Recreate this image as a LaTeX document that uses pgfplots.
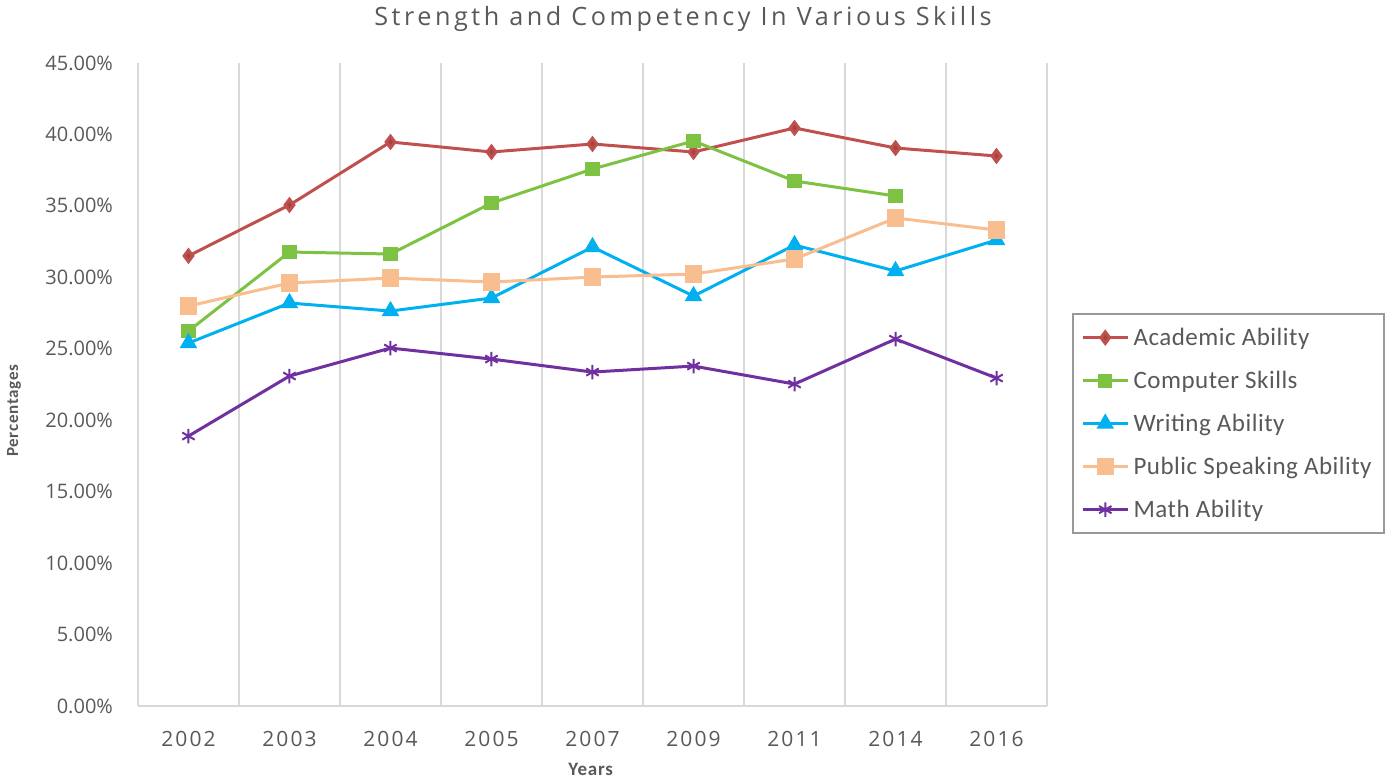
\documentclass[border=0pt]{standalone}
\usepackage{fontspec}
\setmainfont{Carlito}
\newfontfamily\titlefont[LetterSpace=14]{Open Sans}
\newfontfamily\tickfont{Open Sans}
\newfontfamily\yearfont[LetterSpace=10]{Open Sans}
\newfontfamily\legfont[LetterSpace=2]{Carlito}
\newfontfamily\labfont[LetterSpace=4]{Carlito}
\usepackage{pgfplots}
\pgfplotsset{compat=1.18}

\definecolor{txt}{HTML}{595959}
\definecolor{gridc}{HTML}{D9D9D9}
\definecolor{acad}{HTML}{C0504D}
\definecolor{comp}{HTML}{7DC243}
\definecolor{writ}{HTML}{00B0F0}
\definecolor{publ}{HTML}{F9BE8F}
\definecolor{math}{HTML}{7030A0}

\begin{document}
\begin{tikzpicture}
\begin{axis}[
    scale only axis,
    width=454.5pt, height=321.5pt,
    xmin=-0.5, xmax=8.5,
    ymin=0, ymax=45,
    xtick={0,1,2,3,4,5,6,7,8},
    xticklabels={2002,2003,2004,2005,2007,2009,2011,2014,2016},
    minor xtick={-0.5,0.5,...,8.5},
    xminorgrids=true,
    minor grid style={gridc, line width=1pt},
    ytick={0,5,...,45},
    yticklabels={0.00\%,5.00\%,10.00\%,15.00\%,20.00\%,25.00\%,30.00\%,35.00\%,40.00\%,45.00\%},
    major tick length=0pt, minor tick length=0pt,
    axis x line*=bottom, axis y line*=left,
    x axis line style={gridc, line width=1pt, -},
    y axis line style={draw=none},
    /pgf/number format/assume math mode=true,
    yticklabel style={font=\tickfont\fontsize{10}{12}\selectfont, text=txt, xshift=-9pt},
    xticklabel style={font=\yearfont\fontsize{10.5}{12}\selectfont, text=txt, yshift=-9pt},
    clip=false,
    legend cell align=left,
    legend style={at={(1.0275,0.611)}, anchor=north west,
        draw=gray!80, line width=1pt, inner xsep=4pt, inner ysep=4.5pt,
        font=\legfont\fontsize{12.5}{14}\selectfont, text=txt,
        row sep=7pt, text height=9pt, text depth=0pt},
    legend image code/.code={\draw[mark repeat=2,mark phase=2] plot coordinates {(0cm,0cm) (0.4cm,0cm) (0.8cm,0cm)};},
    every axis plot/.append style={line width=1.5pt},
]
\path (axis cs:-1.866,-5.25) rectangle (axis cs:11.876,49.34);

\addplot[acad, mark=diamond*, mark size=2.9pt, mark options={fill=acad!85!black}] coordinates {
(0,31.5) (1,35.06) (2,39.47) (3,38.77) (4,39.33) (5,38.77) (6,40.45) (7,39.05) (8,38.49)};
\addlegendentry{Academic Ability}

\addplot[comp, mark=square*, mark size=2.8pt] coordinates {
(0,26.24) (1,31.77) (2,31.63) (3,35.2) (4,37.58) (5,39.54) (6,36.74) (7,35.69)};
\addlegendentry{Computer Skills}

\addplot[writ, mark=triangle*, mark size=3.6pt] coordinates {
(0,25.4) (1,28.2) (2,27.64) (3,28.55) (4,32.12) (5,28.69) (6,32.26) (7,30.44) (8,32.61)};
\addlegendentry{Writing Ability}

\addplot[publ, mark=square*, mark size=3.6pt] coordinates {
(0,27.99) (1,29.6) (2,29.95) (3,29.67) (4,30.02) (5,30.23) (6,31.28) (7,34.15) (8,33.31)};
\addlegendentry{Public Speaking Ability}

\addplot[math, mark=asterisk, mark size=3.6pt, mark options={line width=1pt}] coordinates {
(0,18.89) (1,23.09) (2,25.05) (3,24.28) (4,23.37) (5,23.79) (6,22.53) (7,25.68) (8,22.95)};
\addlegendentry{Math Ability}

\node[text=txt, font=\titlefont\fontsize{12.6}{14}\selectfont] at (rel axis cs:0.5996,1.068) {Strength and Competency In Various Skills};
\node[text=txt, font=\labfont\bfseries\fontsize{8.5}{10}\selectfont, rotate=90] at (rel axis cs:-0.1364,0.459) {Percentages};
\node[text=txt, font=\labfont\bfseries\fontsize{9.5}{10}\selectfont] at (rel axis cs:0.498,-0.098) {Years};
\end{axis}
\end{tikzpicture}
\end{document}
